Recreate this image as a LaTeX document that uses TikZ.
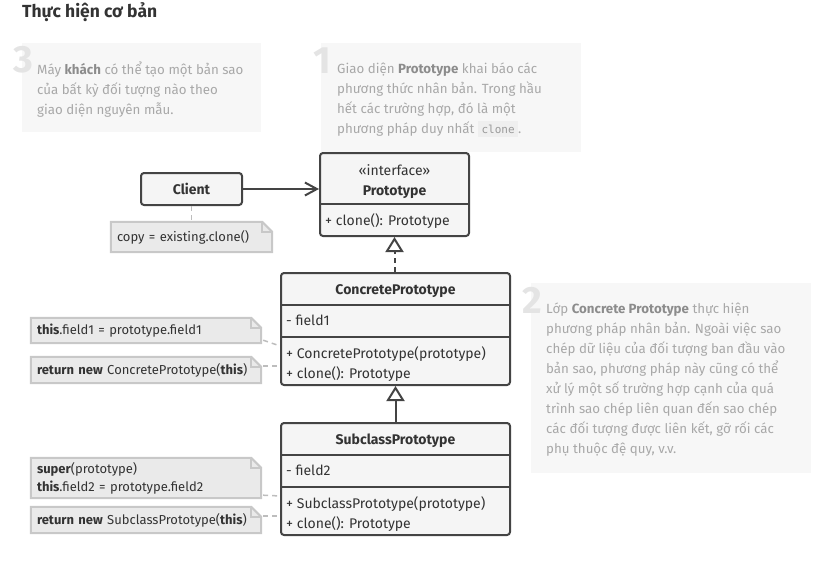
\documentclass[tikz,border=0pt]{standalone}
\usepackage{fontspec}
\setmainfont{Fira Sans}
\setmonofont{DejaVu Sans Mono}
\usetikzlibrary{arrows.meta,backgrounds}

\definecolor{boxline}{HTML}{444444}
\definecolor{boxfill}{HTML}{F5F5F5}
\definecolor{boxtext}{HTML}{333333}
\definecolor{notefill}{HTML}{EAEAEA}
\definecolor{noteline}{HTML}{C8C8C8}
\definecolor{linkline}{HTML}{BDBDBD}
\definecolor{hintfill}{HTML}{F7F7F7}
\definecolor{hinttext}{HTML}{A8A8A8}
\definecolor{hintbold}{HTML}{8C8C8C}
\definecolor{hintnum}{HTML}{E4E4E4}
\definecolor{codebg}{HTML}{EFEFEF}
\definecolor{codetext}{HTML}{999999}

\newcommand{\keyword}[1]{\textcolor{hintbold}{\bfseries #1}}
\newcommand{\codebit}[1]{{\setlength{\fboxsep}{3.5pt}\colorbox{codebg}{\fontsize{11}{11}\ttfamily\textcolor{codetext}{#1}}}}

\tikzset{
  cls/.style={draw=boxline, line width=2pt, fill=boxfill, rounded corners=3pt, inner sep=0pt},
  clsline/.style={draw=boxline, line width=2pt},
  clsname/.style={anchor=base, inner sep=0pt, text=boxtext, font=\fontsize{14}{16}\selectfont\bfseries},
  member/.style={anchor=base west, inner sep=0pt, text=boxtext, font=\fontsize{14}{16}\selectfont},
  note/.style={inner xsep=6pt, inner ysep=0pt, text width=218pt, align=left, text=boxtext,
    font=\fontsize{13}{18}\selectfont},
  noteedge/.style={draw=noteline, fill=notefill, line width=2pt, line join=miter},
  link/.style={draw=linkline, line width=1.5pt, dash pattern=on 5pt off 4pt},
  assoc/.style={draw=boxline, line width=2pt, -{Straight Barb[length=12pt,width=13pt]}},
  inherit/.style={draw=boxline, line width=2pt, -{Triangle[open,length=15pt,width=18pt,fill=white]}},
  hintbox/.style={fill=hintfill, inner sep=0pt},
  hintnum/.style={anchor=base west, inner sep=0pt, text=hintnum, font=\fontsize{38}{38}\selectfont\bfseries},
  hinttxt/.style={anchor=base west, inner sep=0pt, align=left, text=hinttext, font=\fontsize{13.3}{20}\selectfont}
}

% folded corner of a note, drawn behind its text
\newcommand{\notefold}[1]{%
  \begin{pgfonlayer}{background}
    \draw[noteedge] (#1.south west) -- (#1.north west) -- ([xshift=-10pt]#1.north east)
      -- ([yshift=-10pt]#1.north east) -- (#1.south east) -- cycle;
    \draw[noteedge, fill=none] ([xshift=-10pt]#1.north east) |- ([yshift=-10pt]#1.north east);
  \end{pgfonlayer}}

\begin{document}
\begin{tikzpicture}[x=1pt, y=-1pt]
\useasboundingbox (0,0) rectangle (825,566);

% title
\node[anchor=base west, inner sep=0pt, text=boxtext, font=\fontsize{17.5}{18}\selectfont\bfseries] (title) at (22,17) {Thực hiện cơ bản};

% hint 3 (base anchor sits on the last line)
\node[hintbox, minimum width=239pt, minimum height=89pt] (hint3) at (141.5,87.5) {};
\node[hintnum] (num3) at (13,72) {3};
\node[hinttxt] (txt3) at (37,114) {Máy \keyword{khách} có thể tạo một bản sao\\
  của bất kỳ đối tượng nào theo\\
  giao diện nguyên mẫu.};

% hint 1
\node[hintbox, minimum width=260pt, minimum height=109pt] (hint1) at (451,97.5) {};
\node[hintnum] (num1) at (313,73) {1};
\node[hinttxt] (txt1) at (337,133) {Giao diện \keyword{Prototype} khai báo các\\
  phương thức nhân bản. Trong hầu\\
  hết các trường hợp, đó là một\\
  phương pháp duy nhất \codebit{clone}.};

% hint 2
\node[hintbox, minimum width=280pt, minimum height=190pt] (hint2) at (671,378) {};
\node[hintnum] (num2) at (522,313) {2};
\node[hinttxt] (txt2) at (546,453) {Lớp \keyword{Concrete Prototype} thực hiện\\
  phương pháp nhân bản. Ngoài việc sao\\
  chép dữ liệu của đối tượng ban đầu vào\\
  bản sao, phương pháp này cũng có thể\\
  xử lý một số trường hợp cạnh của quá\\
  trình sao chép liên quan đến sao chép\\
  các đối tượng được liên kết, gỡ rối các\\
  phụ thuộc đệ quy, v.v.};

% client
\node[cls, minimum width=101pt, minimum height=32pt, text=boxtext, font=\fontsize{14}{16}\selectfont\bfseries] (client) at (191.5,189) {Client};
\node[note, text width=149pt, minimum height=30pt] (cnote) at (191.5,237) {copy = existing.clone()};
\notefold{cnote}

% prototype interface
\node[cls, minimum width=149pt, minimum height=83pt] (proto) at (394.5,194.5) {};
\draw[clsline] (proto.west |- 0,204) -- (proto.east |- 0,204);
\node[anchor=base, inner sep=0pt, text=boxtext, font=\fontsize{14}{16}\selectfont] (protostereo) at (394.5,175) {«interface»};
\node[clsname] (protoname) at (394.5,195) {Prototype};
\node[member] (protoclone) at (325,225) {+ clone(): Prototype};

% concrete prototype
\node[cls, minimum width=229pt, minimum height=112pt] (cp) at (395.5,329) {};
\draw[clsline] (cp.west |- 0,305) -- (cp.east |- 0,305);
\draw[clsline] (cp.west |- 0,337) -- (cp.east |- 0,337);
\node[clsname] (cpname) at (395.5,294) {ConcretePrototype};
\node[member] (cpfield) at (286,325) {- field1};
\node[member] (cpctor) at (286,358) {+ ConcretePrototype(prototype)};
\node[member] (cpclone) at (286,378) {+ clone(): Prototype};

% subclass prototype
\node[cls, minimum width=229pt, minimum height=112pt] (sub) at (395.5,479) {};
\draw[clsline] (sub.west |- 0,455) -- (sub.east |- 0,455);
\draw[clsline] (sub.west |- 0,487) -- (sub.east |- 0,487);
\node[clsname] (subname) at (395.5,444) {SubclassPrototype};
\node[member] (subfield) at (286,475) {- field2};
\node[member] (subctor) at (286,508) {+ SubclassPrototype(prototype)};
\node[member] (subclone) at (286,528) {+ clone(): Prototype};

% notes on the left
\node[note, minimum height=25pt] (n1) at (146,330.5) {\textbf{this}.field1 = prototype.field1};
\notefold{n1}
\node[note, minimum height=26pt] (n2) at (146,370) {\textbf{return new} ConcretePrototype(\textbf{this})};
\notefold{n2}
\node[note, minimum height=40pt] (n3) at (146,478) {\textbf{super}(prototype)\\\textbf{this}.field2 = prototype.field2};
\notefold{n3}
\node[note, minimum height=26pt] (n4) at (146,520) {\textbf{return new} SubclassPrototype(\textbf{this})};
\notefold{n4}

% connectors
\draw[assoc] (client.east) -- (client.east -| proto.west);
\draw[link] (client) -- (cnote);
\draw[inherit, dash pattern=on 5pt off 4pt] (proto.south |- cp.north) -- (proto.south);
\draw[inherit] (sub.north) -- (cp.south);
\draw[link] ([shift={(2pt,3pt)}]n1.south east) -- (cp.west |- cpctor.north);
\draw[link] ([xshift=2pt]n2.east |- cpclone.north) -- (cp.west |- cpclone.north);
\draw[link] ([shift={(2pt,3pt)}]n3.south east) -- (sub.west |- subctor.north);
\draw[link] ([xshift=2pt]n4.east |- subclone.north) -- (sub.west |- subclone.north);
\end{tikzpicture}
\end{document}
